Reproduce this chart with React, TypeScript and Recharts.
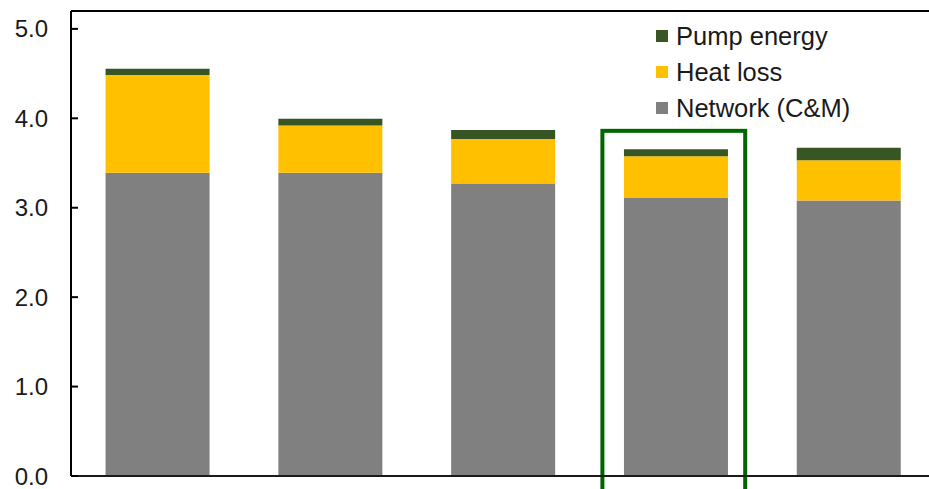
import React from "react";
import {
  BarChart,
  Bar,
  XAxis,
  YAxis,
  ReferenceLine,
  ReferenceArea,
} from "recharts";

const categories = ["A", "B", "C", "D", "E"];
const network = [3.39, 3.39, 3.265, 3.11, 3.08];
const heatLoss = [1.095, 0.53, 0.505, 0.465, 0.45];
const pumpEnergy = [0.07, 0.075, 0.1, 0.08, 0.14];
const yTicks = [0, 1, 2, 3, 4, 5];

const data = categories.map((name, i) => ({
  name,
  network: network[i],
  heat: heatLoss[i],
  pump: pumpEnergy[i],
}));

const legendItems = [
  { label: "Pump energy", color: "#375623" },
  { label: "Heat loss", color: "#FFC000" },
  { label: "Network (C&M)", color: "#808080" },
];

const FONT = "'Liberation Sans', Arial, sans-serif";

const YTick = (props: any) => {
  const { x, y, payload } = props;
  return (
    <g>
      <text
        x={x}
        y={y}
        dy="0.355em"
        textAnchor="end"
        fontSize={24}
        fontFamily={FONT}
        fill="#1a1a1a"
      >
        {Number(payload.value).toFixed(1)}
      </text>
      <line x1={x + 23} x2={x + 30} y1={y} y2={y} stroke="#000" strokeWidth={2} />
    </g>
  );
};

const LegendBox = () => (
  <div
    style={{
      position: "absolute",
      top: 18,
      left: 656,
      fontFamily: FONT,
      fontSize: 25.5,
      color: "#1a1a1a",
    }}
  >
    {legendItems.map((it) => (
      <div
        key={it.label}
        style={{ display: "flex", alignItems: "center", height: 36, whiteSpace: "nowrap" }}
      >
        <span
          style={{
            display: "inline-block",
            width: 12,
            height: 12,
            background: it.color,
            marginRight: 8,
          }}
        />
        {it.label}
      </div>
    ))}
  </div>
);

const HighlightBox = (props: any) => {
  const { x, y, width, height } = props;
  return (
    <rect
      x={x + 13}
      y={y}
      width={width - 30}
      height={height}
      fill="none"
      stroke="#006600"
      strokeWidth={4}
    />
  );
};

export default function App() {
  return (
    <div
      style={{
        position: "fixed",
        left: 0,
        top: 0,
        width: 929,
        height: 489,
        overflow: "hidden",
        background: "#fff",
      }}
    >
      <BarChart
        width={935}
        height={489}
        data={data}
        margin={{ top: 11, right: 0, left: 0, bottom: 0 }}
        barCategoryGap="20%"
      >
        <XAxis
          dataKey="name"
          height={13}
          tick={false}
          tickLine={false}
          axisLine={{ stroke: "#1a1a1a", strokeWidth: 2 }}
        />
        <YAxis
          width={71}
          domain={[0, 5.2]}
          ticks={yTicks}
          interval={0}
          tickSize={0}
          tickMargin={23}
          tick={<YTick />}
          axisLine={{ stroke: "#000", strokeWidth: 2 }}
        />
        <ReferenceLine y={5.2} stroke="#000" strokeWidth={2} ifOverflow="visible" />
        <ReferenceArea
          x1="D"
          x2="D"
          y1={-0.3}
          y2={3.86}
          ifOverflow="visible"
          shape={<HighlightBox />}
        />
        <Bar dataKey="network" stackId="s" fill="#808080" isAnimationActive={false} />
        <Bar dataKey="heat" stackId="s" fill="#FFC000" isAnimationActive={false} />
        <Bar dataKey="pump" stackId="s" fill="#375623" isAnimationActive={false} />
      </BarChart>
      <LegendBox />
    </div>
  );
}
